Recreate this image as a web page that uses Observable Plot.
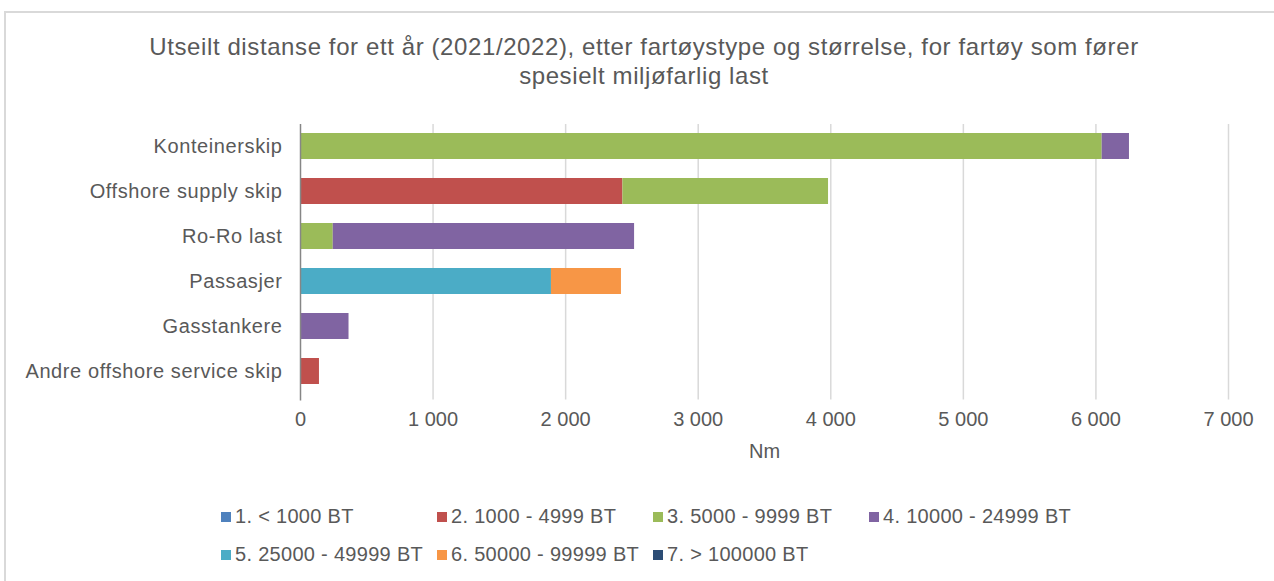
<!DOCTYPE html>
<html>
<head>
<meta charset="utf-8">
<script src="https://cdn.jsdelivr.net/npm/d3@7"></script>
<script src="https://cdn.jsdelivr.net/npm/@observablehq/plot@0.6"></script>
<style>
  html, body { margin: 0; padding: 0; background: #fff; }
  body { width: 1274px; height: 581px; overflow: hidden; position: relative; font-family: "Liberation Sans", Arial, sans-serif; color: #595959; }
  #frame { position: absolute; left: 4px; top: 11px; width: 1290px; height: 620px; border: 2px solid #d9d9d9; box-sizing: border-box; }
  #title { position: absolute; left: 0; top: 32px; width: 1288px; text-align: center; font-size: 24px; letter-spacing: 0.6px; line-height: 29px; color: #595959; }
  #chart { position: absolute; left: 0; top: 100px; }
  .lg { position: absolute; font-size: 20px; letter-spacing: 0.3px; line-height: 24px; white-space: nowrap; color: #595959; }
  .lg span.sw { display: inline-block; width: 10px; height: 10px; margin-right: 4px; vertical-align: 1px; }
</style>
</head>
<body>
<div id="frame"></div>
<div id="title">Utseilt distanse for ett år (2021/2022), etter fartøystype og størrelse, for fartøy som fører<br>spesielt miljøfarlig last</div>
<div id="chart"></div>
<div id="legend"></div>
<script>
// Categories (top to bottom)
const categories = ["Konteinerskip", "Offshore supply skip", "Ro-Ro last", "Passasjer", "Gasstankere", "Andre offshore service skip"];
// Series (size classes)
const seriesNames = ["1. < 1000 BT", "2. 1000 - 4999 BT", "3. 5000 - 9999 BT", "4. 10000 - 24999 BT", "5. 25000 - 49999 BT", "6. 50000 - 99999 BT", "7. > 100000 BT"];
const seriesColors = ["#4F81BD", "#C0504D", "#9BBB59", "#8064A2", "#4BACC6", "#F79646", "#2C4D75"];
// Values per series, aligned with categories (Nm)
const s1 = [0, 0, 0, 0, 0, 0];
const s2 = [0, 2432, 0, 0, 0, 143];
const s3 = [6047, 1551, 247, 0, 0, 0];
const s4 = [206, 0, 2273, 0, 366, 0];
const s5 = [0, 0, 0, 1893, 0, 0];
const s6 = [0, 0, 0, 528, 0, 0];
const s7 = [0, 0, 0, 0, 0, 0];
const xTicks = [0, 1000, 2000, 3000, 4000, 5000, 6000, 7000];
const xLabel = "Nm";

const allSeries = [s1, s2, s3, s4, s5, s6, s7];
const rows = [];
allSeries.forEach((vals, si) => {
  vals.forEach((v, ci) => {
    if (v > 0) rows.push({category: categories[ci], series: seriesNames[si], value: v});
  });
});

const fmt = d => d3.format(",")(d).replace(/,/g, " ");

const chart = Plot.plot({
  width: 1274,
  height: 375,
  marginTop: 23.5,
  marginBottom: 81.5,
  marginLeft: 300,
  marginRight: 46,
  style: { fontFamily: "'Liberation Sans', Arial, sans-serif", fontSize: "20px", color: "#595959", background: "transparent" },
  x: { domain: [0, 7000], ticks: xTicks, tickFormat: fmt },
  y: { domain: categories, paddingInner: 0.422, paddingOuter: 0.211 },
  color: { domain: seriesNames, range: seriesColors },
  marks: [
    Plot.ruleX(xTicks.filter(d => d > 0), { stroke: "#d9d9d9", strokeWidth: 1.5, insetBottom: -6, insetTop: 0.5 }),
    Plot.barX(rows, Plot.stackX({ x: "value", y: "category", fill: "series", order: seriesNames })),
    Plot.ruleX([0], { stroke: "#868686", strokeWidth: 1.5, insetBottom: -7, insetTop: 0.5 }),
    Plot.axisX({ ticks: xTicks, tickFormat: fmt, tickSize: 0, tickPadding: 18, label: null, fontSize: 20, fill: "#595959" }),
    Plot.axisY({ tickSize: 0, tickPadding: 18, label: null, fontSize: 20, fill: "#595959" }),
    Plot.text([xLabel], { frameAnchor: "bottom", dy: 57.5, fontSize: 20, fill: "#595959", lineAnchor: "middle" })
  ]
});
chart.querySelectorAll('g[aria-label="y-axis tick label"] text').forEach(t => { t.style.letterSpacing = "0.6px"; });
document.getElementById("chart").appendChild(chart);

// Legend
const legend = document.getElementById("legend");
const rowCenters = [516, 554];
seriesNames.forEach((name, i) => {
  const col = i % 4, row = Math.floor(i / 4);
  const div = document.createElement("div");
  div.className = "lg";
  div.style.left = (221 + 216 * col) + "px";
  div.style.top = (rowCenters[row] - 12) + "px";
  const sw = document.createElement("span");
  sw.className = "sw";
  sw.style.background = seriesColors[i];
  div.appendChild(sw);
  div.appendChild(document.createTextNode(name));
  legend.appendChild(div);
});
</script>
</body>
</html>
